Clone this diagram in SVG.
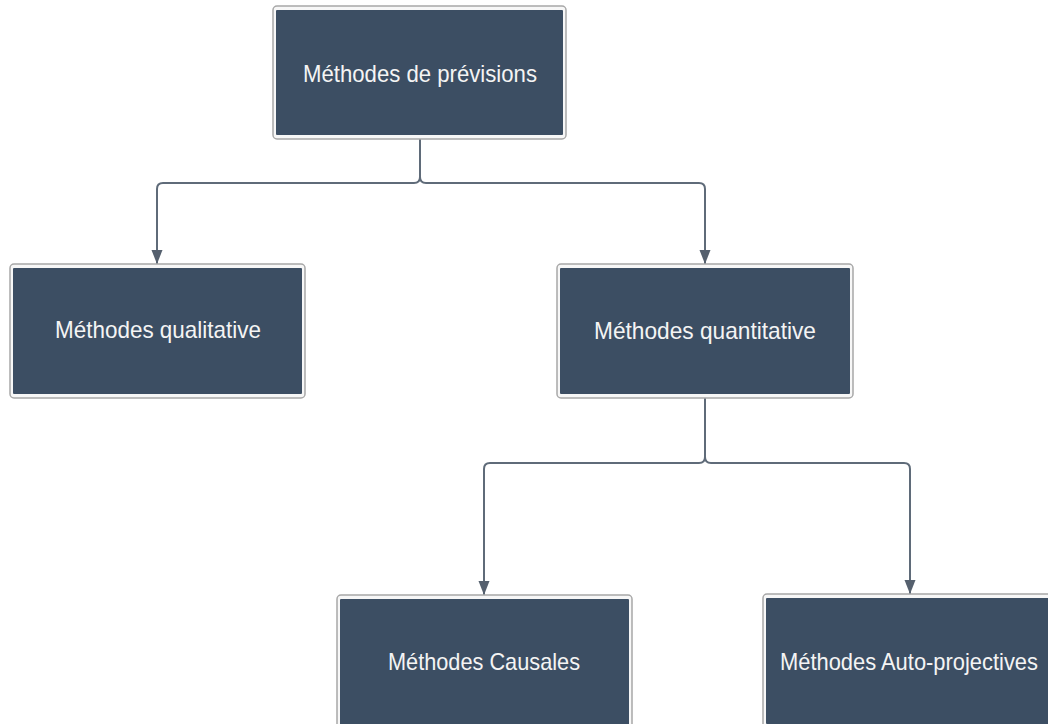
<svg xmlns="http://www.w3.org/2000/svg" width="1048" height="724" viewBox="0 0 1048 724">
  <style>
    .frame { fill: #f7f7f7; stroke: #a8a8a8; stroke-width: 1.5; }
    .body { fill: #3c4e63; }
    .label { fill: #f4f4f4; font-family: "Liberation Sans", Arial, sans-serif; font-size: 24px; text-anchor: middle; }
    .edge { fill: none; stroke: #5f6b79; stroke-width: 2; }
  </style>
  <defs>
    <marker id="arrow" viewBox="0 -6 14 12" refX="14" refY="0" markerWidth="14" markerHeight="12" markerUnits="userSpaceOnUse" orient="auto">
      <path d="M0,-5.5 L14,0 L0,5.5 z" fill="#55606e"/>
    </marker>
  </defs>
  <rect width="1048" height="724" fill="#ffffff"/>

  <g id="connectors">
    <path class="edge" d="M420,139 V177 Q420,183 414,183 H163 Q157,183 157,189 V264" marker-end="url(#arrow)"/>
    <path class="edge" d="M420,177 Q420,183 426,183 H699 Q705,183 705,189 V264" marker-end="url(#arrow)"/>
    <path class="edge" d="M705,398 V457 Q705,463 699,463 H490 Q484,463 484,469 V595" marker-end="url(#arrow)"/>
    <path class="edge" d="M705,457 Q705,463 711,463 H904 Q910,463 910,469 V594" marker-end="url(#arrow)"/>
  </g>

  <g id="node-previsions">
    <rect class="frame" x="273" y="6" width="293" height="133" rx="4"/>
    <rect class="body" x="276" y="10" width="287" height="125" rx="1"/>
    <text class="label" x="420" y="82" textLength="234" lengthAdjust="spacingAndGlyphs">Méthodes de prévisions</text>
  </g>

  <g id="node-qualitative">
    <rect class="frame" x="10" y="264" width="295" height="134" rx="4"/>
    <rect class="body" x="13" y="268" width="289" height="126" rx="1"/>
    <text class="label" x="158" y="338" textLength="206" lengthAdjust="spacingAndGlyphs">Méthodes qualitative</text>
  </g>

  <g id="node-quantitative">
    <rect class="frame" x="557" y="264" width="296" height="134" rx="4"/>
    <rect class="body" x="560" y="268" width="290" height="126" rx="1"/>
    <text class="label" x="705" y="339" textLength="222" lengthAdjust="spacingAndGlyphs">Méthodes quantitative</text>
  </g>

  <g id="node-causales">
    <rect class="frame" x="337" y="595" width="295" height="134" rx="4"/>
    <rect class="body" x="340" y="599" width="289" height="126" rx="1"/>
    <text class="label" x="484" y="670" textLength="192" lengthAdjust="spacingAndGlyphs">Méthodes Causales</text>
  </g>

  <g id="node-autoprojectives">
    <rect class="frame" x="763" y="594" width="295" height="134" rx="4"/>
    <rect class="body" x="766" y="598" width="289" height="126" rx="1"/>
    <text class="label" x="909" y="670" textLength="258" lengthAdjust="spacingAndGlyphs">Méthodes Auto-projectives</text>
  </g>
</svg>
